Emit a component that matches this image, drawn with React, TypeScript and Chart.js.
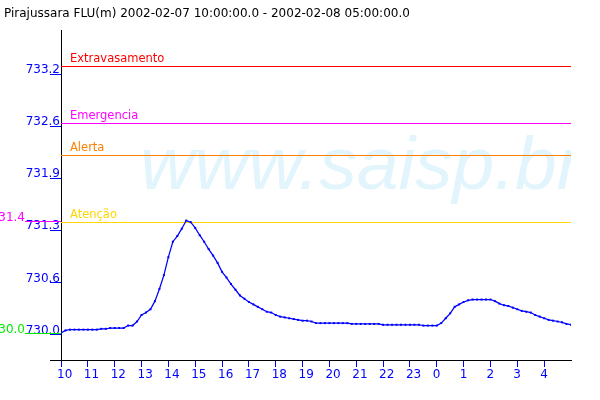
import React, { useEffect, useRef } from 'react';
import { Chart, registerables } from 'chart.js';

Chart.register(...registerables);

const TITLE = 'Pirajussara FLU(m) 2002-02-07 10:00:00.0 - 2002-02-08 05:00:00.0';
const WATERMARK = 'www.saisp.br';

// hour tick labels (axis runs from 10:00 to 05:00 next day)
const hourLabels = ['10', '11', '12', '13', '14', '15', '16', '17', '18', '19', '20', '21', '22', '23', '0', '1', '2', '3', '4'];
const sampleMinutes = 10;

// water level (m), one reading every 10 minutes from 10:00
const levels = [
  730.02, 730.05, 730.06, 730.06, 730.06, 730.06, 730.06, 730.06, 730.06, 730.07,
  730.07, 730.08, 730.08, 730.08, 730.08, 730.11, 730.11, 730.16, 730.24, 730.27,
  730.31, 730.41, 730.56, 730.73, 730.95, 731.14, 731.21, 731.30, 731.40, 731.38,
  731.31, 731.22, 731.14, 731.05, 730.97, 730.88, 730.77, 730.70, 730.62, 730.55,
  730.48, 730.44, 730.40, 730.37, 730.34, 730.31, 730.28, 730.27, 730.24, 730.22,
  730.21, 730.20, 730.19, 730.18, 730.17, 730.17, 730.16, 730.14, 730.14, 730.14,
  730.14, 730.14, 730.14, 730.14, 730.14, 730.13, 730.13, 730.13, 730.13, 730.13,
  730.13, 730.13, 730.12, 730.12, 730.12, 730.12, 730.12, 730.12, 730.12, 730.12,
  730.12, 730.11, 730.11, 730.11, 730.11, 730.14, 730.20, 730.26, 730.34, 730.37,
  730.40, 730.42, 730.43, 730.43, 730.43, 730.43, 730.43, 730.41, 730.38, 730.36,
  730.35, 730.33, 730.31, 730.29, 730.28, 730.27, 730.24, 730.22, 730.20, 730.18,
  730.17, 730.16, 730.15, 730.13, 730.12,
];

const yTickValues = [730.0, 730.64, 731.28, 731.92, 732.56, 733.2];
const yTickLabels = ['730.0', '730.6', '731.3', '731.9', '732.6', '733.2'];
const Y_MIN = 729.687;
const Y_MAX = 733.741;

const thresholdNames = ['Extravasamento', 'Emergencia', 'Alerta', 'Atenção'];
const thresholdValues = [733.3, 732.6, 732.2, 731.38];
const thresholdColors = ['#ff0000', '#ff00ff', '#ff8000', '#ffd700'];

const BLUE = '#0000ff';
const FONT = '"DejaVu Sans", sans-serif';

const overlayPlugin = {
  id: 'overlay',
  beforeDatasetsDraw(chart: any) {
    const { ctx, chartArea: a, scales } = chart;
    const y = scales.y;
    ctx.save();
    ctx.beginPath();
    ctx.rect(a.left, a.top, a.right - a.left, a.bottom - a.top);
    ctx.clip();
    ctx.font = 'italic 75px "Liberation Sans", sans-serif';
    ctx.fillStyle = '#e2f5fc';
    ctx.textAlign = 'left';
    ctx.textBaseline = 'alphabetic';
    ctx.fillText(WATERMARK, 140, 189);
    ctx.restore();

    ctx.save();
    ctx.lineWidth = 1;
    ctx.font = '11.5px ' + FONT;
    ctx.textAlign = 'left';
    ctx.textBaseline = 'alphabetic';
    thresholdValues.forEach((v, i) => {
      const py = Math.round(y.getPixelForValue(v)) + 0.5;
      ctx.strokeStyle = thresholdColors[i];
      ctx.beginPath();
      ctx.moveTo(a.left, py);
      ctx.lineTo(a.right, py);
      ctx.stroke();
      ctx.fillStyle = thresholdColors[i];
      ctx.fillText(thresholdNames[i], a.left + 9, py - 4.5);
    });
    ctx.restore();
  },
  afterDraw(chart: any) {
    const { ctx, chartArea: a, scales } = chart;
    const y = scales.y;
    ctx.save();
    // title
    ctx.font = '12px ' + FONT;
    ctx.fillStyle = '#000000';
    ctx.textAlign = 'left';
    ctx.textBaseline = 'alphabetic';
    ctx.fillText(TITLE, 4, 17);

    // axis extension left of the y axis
    ctx.strokeStyle = '#000000';
    ctx.lineWidth = 1;
    ctx.beginPath();
    ctx.moveTo(a.left - 11, Math.round(a.bottom) + 0.5);
    ctx.lineTo(a.left, Math.round(a.bottom) + 0.5);
    ctx.stroke();

    // max / min markers
    const maxV = Math.max(...levels);
    const minV = Math.min(...levels);
    const marks = [
      { v: maxV, color: '#ff00ff' },
      { v: minV, color: '#00ee00' },
    ];
    ctx.font = '12px ' + FONT;
    ctx.textAlign = 'right';
    marks.forEach((m) => {
      const py = Math.round(y.getPixelForValue(m.v)) + 0.5;
      ctx.strokeStyle = m.color;
      ctx.beginPath();
      ctx.moveTo(25, py);
      ctx.lineTo(a.left, py);
      ctx.stroke();
      ctx.fillStyle = m.color;
      ctx.fillText(m.v.toFixed(1), 25, py - 0.5);
    });
    ctx.restore();
  },
};

export default function App() {
  const canvasRef = useRef<HTMLCanvasElement | null>(null);

  useEffect(() => {
    document.body.style.margin = '0';
    const canvas = canvasRef.current;
    if (!canvas) return;
    const points = levels.map((v, i) => ({ x: (i * sampleMinutes) / 60, y: v }));

    const chart = new Chart(canvas, {
      type: 'line',
      data: {
        datasets: [
          {
            data: points,
            borderColor: BLUE,
            backgroundColor: BLUE,
            borderWidth: 1.25,
            pointStyle: 'rect',
            pointRadius: 1.4,
            pointBorderWidth: 0,
            pointBackgroundColor: BLUE,
            tension: 0,
            fill: false,
          },
        ],
      },
      options: {
        responsive: false,
        animation: false,
        devicePixelRatio: 1,
        layout: { padding: { top: 30, right: 29, left: 0, bottom: 0 } },
        plugins: {
          legend: { display: false },
          title: { display: false },
          tooltip: { enabled: false },
        },
        scales: {
          x: {
            type: 'linear',
            min: 0,
            max: hourLabels.length,
            afterBuildTicks: (scale: any) => {
              scale.ticks = hourLabels.map((_, i) => ({ value: i }));
            },
            afterFit: (scale: any) => {
              scale.height = 40;
            },
            grid: {
              display: true,
              drawOnChartArea: false,
              drawTicks: true,
              tickLength: 7,
              tickColor: BLUE,
              color: BLUE,
            },
            border: { display: true, color: '#000000', width: 1 },
            ticks: {
              autoSkip: false,
              maxRotation: 0,
              minRotation: 0,
              align: 'start',
              labelOffset: -4,
              padding: 1,
              color: BLUE,
              font: { family: FONT, size: 12 },
              callback: (value: any) => hourLabels[Math.round(Number(value))] ?? '',
            },
          },
          y: {
            type: 'linear',
            min: Y_MIN,
            max: Y_MAX,
            afterBuildTicks: (scale: any) => {
              scale.ticks = yTickValues.map((v) => ({ value: v }));
            },
            afterFit: (scale: any) => {
              scale.width = 61;
            },
            grid: {
              display: true,
              drawOnChartArea: false,
              drawTicks: true,
              tickLength: 11,
              tickColor: BLUE,
              color: BLUE,
            },
            border: { display: true, color: '#000000', width: 1 },
            ticks: {
              autoSkip: false,
              padding: -10,
              labelOffset: -4,
              color: BLUE,
              font: { family: FONT, size: 12 },
              callback: (value: any) => {
                const idx = yTickValues.findIndex((t) => Math.abs(t - Number(value)) < 1e-6);
                return idx >= 0 ? yTickLabels[idx] : '';
              },
            },
          },
        },
      },
      plugins: [overlayPlugin],
    });

    return () => chart.destroy();
  }, []);

  return (
    <div style={{ position: 'absolute', left: 0, top: 0, width: 600, height: 400, background: '#ffffff' }}>
      <canvas ref={canvasRef} width={600} height={400} style={{ width: 600, height: 400, display: 'block' }} />
    </div>
  );
}
